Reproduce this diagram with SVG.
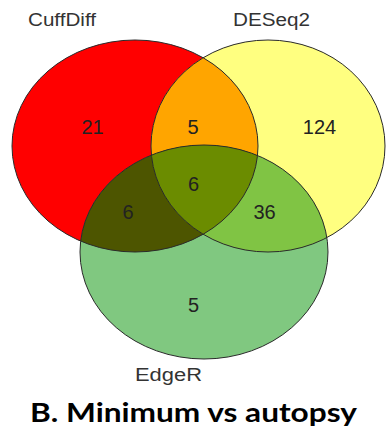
<svg xmlns="http://www.w3.org/2000/svg" width="386" height="427" viewBox="0 0 386 427">
<style>
.set{stroke:#2a2a2a;stroke-width:1;fill:none}
.lbl{font-family:"Liberation Sans",Arial,sans-serif;font-size:18px;fill:#333}
.num{font-family:"Liberation Sans",Arial,sans-serif;font-size:20px;fill:#222;text-anchor:middle}
.title{font-family:Lato,"Open Sans",sans-serif;font-weight:bold;font-size:27px;fill:#000}
</style>
<defs>
<ellipse id="eR" cx="135" cy="146" rx="123" ry="106"/>
<ellipse id="eY" cx="268" cy="146" rx="117" ry="106"/>
<ellipse id="eG" cx="204" cy="252" rx="124" ry="107"/>
<clipPath id="cR"><use href="#eR"/></clipPath>
<clipPath id="cY"><use href="#eY"/></clipPath>
<clipPath id="cG"><use href="#eG"/></clipPath>
</defs>
<rect width="386" height="427" fill="#fff"/>
<g id="CuffDiff">
<use href="#eR" fill="#FF0000"/>
</g>
<g id="DESeq2">
<use href="#eY" fill="#FFFF80"/>
</g>
<g id="EdgeR">
<use href="#eG" fill="#80C880"/>
</g>
<g id="overlaps">
<g clip-path="url(#cR)"><use href="#eY" fill="#FFA500"/></g>
<g clip-path="url(#cR)"><use href="#eG" fill="#4D5500"/></g>
<g clip-path="url(#cY)"><use href="#eG" fill="#80C444"/></g>
<g clip-path="url(#cR)"><g clip-path="url(#cY)"><use href="#eG" fill="#6B8C00"/></g></g>
</g>
<g id="outlines">
<use href="#eR" class="set"/>
<use href="#eY" class="set"/>
<use href="#eG" class="set"/>
</g>
<g id="labels">
<text class="lbl" x="28" y="26" textLength="68" lengthAdjust="spacingAndGlyphs">CuffDiff</text>
<text class="lbl" x="233" y="26" textLength="77" lengthAdjust="spacingAndGlyphs">DESeq2</text>
<text class="lbl" x="135" y="381" textLength="67" lengthAdjust="spacingAndGlyphs">EdgeR</text>
</g>
<g id="counts">
<text class="num" x="92.5" y="134">21</text>
<text class="num" x="193" y="134">5</text>
<text class="num" x="319.5" y="134">124</text>
<text class="num" x="193.5" y="191">6</text>
<text class="num" x="128" y="219">6</text>
<text class="num" x="264.5" y="219">36</text>
<text class="num" x="193.5" y="312">5</text>
</g>
<text class="title" x="30" y="422" textLength="327" lengthAdjust="spacingAndGlyphs">B. Minimum vs autopsy</text>
</svg>
